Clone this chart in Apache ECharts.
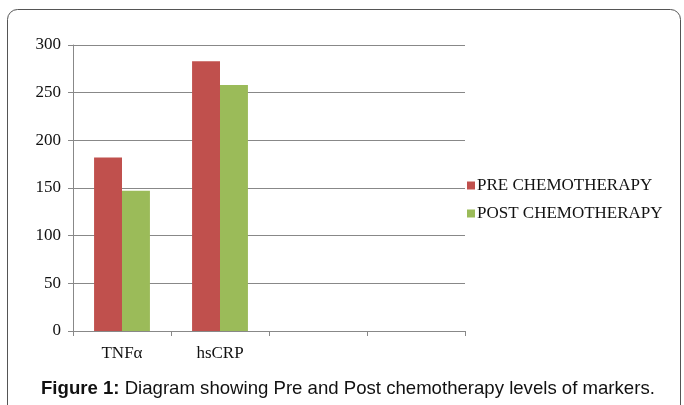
<!DOCTYPE html>
<html><head><meta charset="utf-8">
<script src="https://cdn.jsdelivr.net/npm/echarts@6/dist/echarts.min.js"></script>
<style>html,body{margin:0;padding:0;background:#fff}#c{width:684px;height:405px}</style>
</head><body><div id="c"></div>
<script>
const categories = ['TNFα', 'hsCRP', '', ''];
const preValues = [182, 283, null, null];
const postValues = [147, 258, null, null];
const seriesNames = ['PRE CHEMOTHERAPY', 'POST CHEMOTHERAPY'];
const yTicks = { min: 0, max: 300, interval: 50 };
const caption = ['Figure 1:', ' Diagram showing Pre and Post chemotherapy levels of markers.'];

const chart = echarts.init(document.getElementById('c'), null, { renderer: 'canvas' });
const serif = 'Liberation Serif, Times New Roman, serif';
chart.setOption({
  animation: false,
  backgroundColor: '#fff',
  grid: { left: 73, right: 219, top: 45, bottom: 74, containLabel: false },
  legend: {
    orient: 'vertical', left: 462, top: 172,
    itemWidth: 8, itemHeight: 8, itemGap: 11,
    icon: 'rect',
    textStyle: { fontFamily: serif, fontSize: 17, color: '#111', padding: [0, 0, 0, -3] },
    data: seriesNames
  },
  xAxis: {
    type: 'category', data: categories,
    axisLine: { lineStyle: { color: '#888', width: 1 } },
    axisTick: { show: true, length: 5, lineStyle: { color: '#888' } },
    axisLabel: { fontFamily: serif, fontSize: 17, color: '#111', margin: 14 },
    splitLine: { show: false }
  },
  yAxis: {
    type: 'value', min: yTicks.min, max: yTicks.max, interval: yTicks.interval,
    axisLine: { show: true, lineStyle: { color: '#888', width: 1 } },
    axisTick: { show: true, length: 5, lineStyle: { color: '#888' } },
    axisLabel: { fontFamily: serif, fontSize: 17, color: '#111', margin: 12 },
    splitLine: { lineStyle: { color: '#888', width: 1 } }
  },
  series: [
    { name: seriesNames[0], type: 'bar', data: preValues, barGap: '0%', barCategoryGap: '43%',
      itemStyle: { color: '#C0504D' } },
    { name: seriesNames[1], type: 'bar', data: postValues, barGap: '0%', barCategoryGap: '43%',
      itemStyle: { color: '#9BBB59' } }
  ],
  graphic: [
    { type: 'rect', shape: { x: 7.5, y: 9.5, width: 673, height: 430, r: 10 },
      style: { fill: 'none', stroke: '#555', lineWidth: 1 }, z: 100 },
    { type: 'text', left: 41, top: 379, z: 100,
      style: {
        text: '{b|' + caption[0] + '}{n|' + caption[1] + '}',
        rich: {
          b: { fontFamily: 'Liberation Sans, Arial, sans-serif', fontSize: 18.6, fontWeight: 'bold', fill: '#111' },
          n: { fontFamily: 'Liberation Sans, Arial, sans-serif', fontSize: 18.6, fill: '#111' }
        }
      } }
  ]
});
</script></body></html>
